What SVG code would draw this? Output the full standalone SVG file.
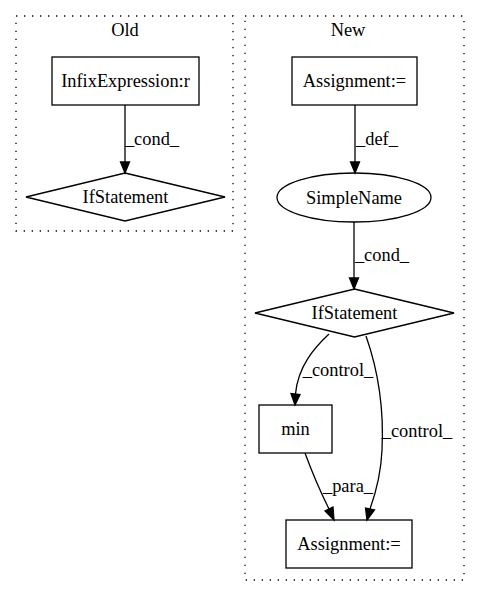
<svg xmlns="http://www.w3.org/2000/svg" width="480" height="596" viewBox="0 0 480 596">
<style>
text{font-family:"Liberation Serif","Times New Roman",serif;font-size:18.4px;fill:#000;text-anchor:middle}
.cl{fill:none;stroke:#000;stroke-width:1.3;stroke-dasharray:1.3,6.7}
.nd{fill:none;stroke:#000;stroke-width:1.3}
.ed{fill:none;stroke:#000;stroke-width:1.3}
.ah{fill:#000;stroke:#000;stroke-width:1.3}
</style>
<rect width="480" height="596" fill="#fff"/>
<g id="cluster-old">
<rect class="cl" x="16" y="16" width="217" height="215"/>
<text x="125" y="36">Old</text>
</g>
<g id="cluster-new">
<rect class="cl" x="245" y="16" width="219" height="564"/>
<text x="348" y="36">New</text>
</g>
<g id="connectors">
<path class="ed" d="M125,105 L125,162"/>
<polygon class="ah" points="125,173 120.5,162 129.5,162"/>
<text x="152" y="145">_cond_</text>
<path class="ed" d="M355,105 L355,162"/>
<polygon class="ah" points="355,173 350.5,162 359.5,162"/>
<text x="377" y="145">_def_</text>
<path class="ed" d="M354,222 L354,278"/>
<polygon class="ah" points="354,289 349.5,278 358.5,278"/>
<text x="382" y="261">_cond_</text>
<path class="ed" d="M329,334 C315,347 298,366 295.5,394"/>
<polygon class="ah" points="295,405 291,393.5 300,394.5"/>
<text x="338" y="376">_control_</text>
<path class="ed" d="M366,336 C378,370 384,410 382,450 C381,475 375,495 370,509"/>
<polygon class="ah" points="367,520 365.5,508 374.5,510"/>
<text x="417" y="437">_control_</text>
<path class="ed" d="M305,453 C312,472 321,493 329,509"/>
<polygon class="ah" points="334,520 325,511 333,507"/>
<text x="348" y="492">_para_</text>
</g>
<g id="node-infix">
<rect class="nd" x="52" y="57" width="147" height="48"/>
<text x="125.5" y="87">InfixExpression:r</text>
</g>
<g id="node-if-old">
<polygon class="nd" points="125,173 225,197 125,221 26,197"/>
<text x="125.5" y="203">IfStatement</text>
</g>
<g id="node-assign-top">
<rect class="nd" x="292" y="57" width="125" height="48"/>
<text x="354.5" y="87">Assignment:=</text>
</g>
<g id="node-simplename">
<ellipse class="nd" cx="354" cy="197.5" rx="77" ry="24.5"/>
<text x="354" y="204">SimpleName</text>
</g>
<g id="node-if-new">
<polygon class="nd" points="354.5,289 454,313 354.5,337 255,313"/>
<text x="354.5" y="319">IfStatement</text>
</g>
<g id="node-min">
<rect class="nd" x="259" y="405" width="73" height="48"/>
<text x="295.5" y="435">min</text>
</g>
<g id="node-assign-bottom">
<rect class="nd" x="286" y="520" width="126" height="48"/>
<text x="349" y="550">Assignment:=</text>
</g>
</svg>
